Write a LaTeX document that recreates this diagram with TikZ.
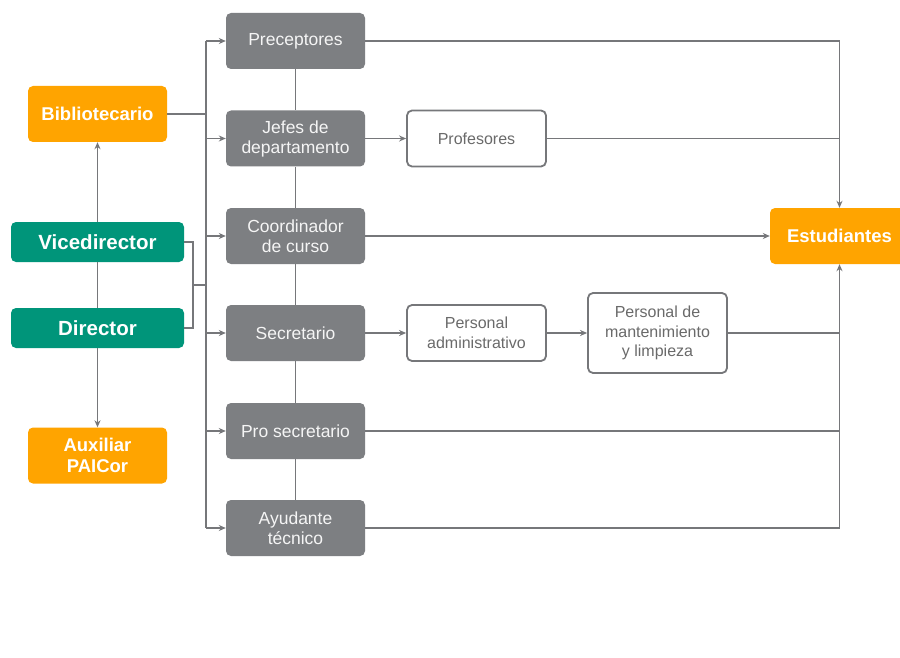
\documentclass[tikz,border=0pt]{standalone}
\usepackage{fontspec}
\setmainfont{Liberation Sans}
\usetikzlibrary{arrows.meta}
\definecolor{org}{HTML}{FFA400}
\definecolor{grn}{HTML}{00957A}
\definecolor{gbox}{HTML}{7D7F82}
\definecolor{ln}{HTML}{76777A}
\definecolor{wtxt}{HTML}{6A6A6A}
\begin{document}
\begin{tikzpicture}[x=1pt,y=-1pt,
 base/.style={rounded corners=5pt, inner sep=0pt, align=center, minimum width=139pt, minimum height=56pt},
 graybox/.style={base, fill=gbox, text=white!92!gbox, font=\fontsize{17.5}{20}\selectfont},
 whitebox/.style={base, draw=ln, line width=1.8pt, fill=white, text=wtxt, font=\fontsize{16}{19.5}\selectfont},
 orangebox/.style={base, fill=org, text=white, font=\bfseries\fontsize{18.5}{21}\selectfont},
 greenbox/.style={base, fill=grn, text=white, minimum width=173pt, minimum height=40pt, font=\bfseries\fontsize{20.5}{23}\selectfont},
 conn/.style={draw=ln, line width=1.8pt},
 arr/.style={conn, -{Stealth[length=7pt,width=6pt]}}
]
\clip (0,0) rectangle (900,658);
\fill[white] (0,0) rectangle (900,658);
% nodes
\node[graybox] (prec) at (295.5,41) {Preceptores};
\node[graybox] (jefes) at (295.5,138.5) {Jefes de\\departamento};
\node[graybox] (coord) at (295.5,236) {Coordinador\\de curso};
\node[graybox] (sec) at (295.5,333) {Secretario};
\node[graybox] (pro) at (295.5,431) {Pro secretario};
\node[graybox] (ayu) at (295.5,528) {Ayudante\\técnico};
\node[orangebox] (bib) at (97.5,114) {Bibliotecario};
\node[greenbox] (vice) at (97.5,242) {Vicedirector};
\node[greenbox] (dir) at (97.5,328) {Director};
\node[orangebox] (aux) at (97.5,455.5) {Auxiliar\\PAICor};
\node[whitebox] (prof) at (476.5,138.5) {Profesores};
\node[whitebox] (padm) at (476.5,333) {Personal\\administrativo};
\node[whitebox, minimum height=80pt] (pman) at (657.5,333) {Personal de\\mantenimiento\\y limpieza};
\node[orangebox] (est) at (839.5,236) {Estudiantes};
% gray chain
\draw[conn] (prec.south) -- (jefes.north);
\draw[conn] (jefes.south) -- (coord.north);
\draw[conn] (coord.south) -- (sec.north);
\draw[conn] (sec.south) -- (pro.north);
\draw[conn] (pro.south) -- (ayu.north);
% left bus
\coordinate (bt) at (206,41);
\coordinate (bb) at (206,528);
\draw[conn] (bt) -- (bb);
\draw[arr] (bt) -- (prec.west);
\draw[arr] (jefes.west -| bt) -- (jefes.west);
\draw[arr] (coord.west -| bt) -- (coord.west);
\draw[arr] (sec.west -| bt) -- (sec.west);
\draw[arr] (pro.west -| bt) -- (pro.west);
\draw[arr] (bb) -- (ayu.west);
\draw[conn] (bib.east) -- (bib.east -| bt);
\coordinate (vd) at (193,285);
\draw[conn] (vice.east) -| (vd) |- (dir.east);
\draw[conn] (vd) -- (vd -| bt);
% left vertical
\draw[arr] (vice.north) -- (bib.south);
\draw[conn] (vice.south) -- (dir.north);
\draw[arr] (dir.south) -- (aux.north);
% middle
\draw[arr] (jefes.east) -- (prof.west);
\draw[arr] (sec.east) -- (padm.west);
\draw[arr] (padm.east) -- (pman.west);
% right bus
\draw[arr] (prec.east) -| (est.north);
\draw[arr] (ayu.east) -| (est.south);
\draw[conn] (prof.east) -- (prof.east -| est.north);
\draw[arr] (coord.east) -- (est.west);
\draw[conn] (pman.east) -- (pman.east -| est.south);
\draw[conn] (pro.east) -- (pro.east -| est.south);
\end{tikzpicture}
\end{document}
